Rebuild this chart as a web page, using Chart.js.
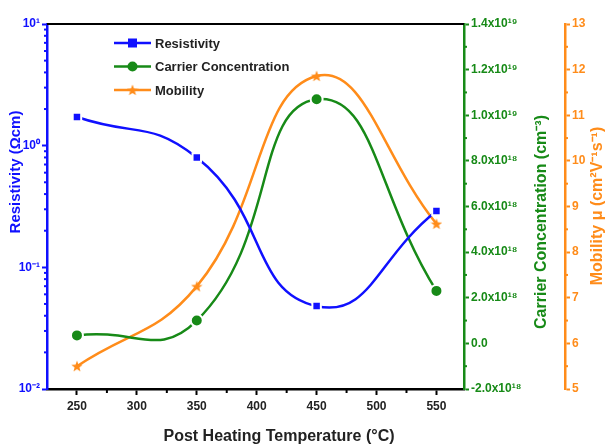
<!DOCTYPE html>
<html lang="en">
<head>
  <meta charset="UTF-8">
  <title>Resistivity / Carrier / Mobility</title>
  <script src="https://cdn.jsdelivr.net/npm/chart.js"></script>
  <style>
    body { margin: 0; background: #fff; }
    #wrap { width: 609px; height: 448px; position: relative; }
  </style>
</head>
<body>
<div id="wrap"><canvas id="chart"></canvas></div>
<script>
  // data
  const temps = [250, 350, 450, 550];
  const resistivity = [1.72, 0.80, 0.048, 0.29];          // ohm cm (log axis)
  const carrier = [0.35e18, 1.0e18, 1.07e19, 2.3e18];      // cm^-3
  const mobility = [5.5, 7.25, 11.86, 8.62];               // cm2 V-1 s-1
  const xTicks = [250, 300, 350, 400, 450, 500, 550];
  const resTicks = [0.01, 0.1, 1, 10];

  const BLUE = '#1010ff', GREEN = '#178a17', ORANGE = '#ff8c1a', DARK = '#222';
  const FONT = "'Liberation Sans', Arial, sans-serif";

  const sup = { '-': '⁻', '0': '⁰', '1': '¹', '2': '²', '3': '³', '4': '⁴', '5': '⁵', '6': '⁶', '7': '⁷', '8': '⁸', '9': '⁹' };
  const toSup = s => String(s).split('').map(c => sup[c] || c).join('');

  // filled star marker for mobility
  function makeStar(size, color) {
    const c = document.createElement('canvas');
    c.width = size; c.height = size;
    const g = c.getContext('2d');
    const r = size / 2, ri = r * 0.42;
    g.beginPath();
    for (let i = 0; i < 10; i++) {
      const rad = i % 2 ? ri : r;
      const a = -Math.PI / 2 + i * Math.PI / 5;
      const px = r + rad * Math.cos(a), py = r + 0.5 + rad * Math.sin(a);
      i ? g.lineTo(px, py) : g.moveTo(px, py);
    }
    g.closePath();
    g.fillStyle = color;
    g.fill();
    return c;
  }
  const starImg = makeStar(12, ORANGE);

  const pts = vals => temps.map((t, i) => ({ x: t, y: vals[i] }));

  function vText(ctx, text, x, y, color, size, angle) {
    ctx.save();
    ctx.translate(x, y);
    ctx.rotate(angle);
    ctx.font = 'bold ' + size + 'px ' + FONT;
    ctx.fillStyle = color;
    ctx.textAlign = 'center';
    ctx.textBaseline = 'middle';
    ctx.fillText(text, 0, 0);
    ctx.restore();
  }

  // minor ticks, top frame, axis titles and in-plot legend
  const extras = {
    id: 'extras',
    afterDraw(chart) {
      const ctx = chart.ctx, a = chart.chartArea;
      const sx = chart.scales.x, sy = chart.scales.y, s1 = chart.scales.y1, s2 = chart.scales.y2;
      ctx.save();
      ctx.lineWidth = 2;
      // top frame
      ctx.strokeStyle = '#000';
      ctx.beginPath(); ctx.moveTo(a.left, a.top); ctx.lineTo(a.right, a.top); ctx.stroke();
      // x minor ticks
      for (let v = 275; v <= 575; v += 50) {
        const p = sx.getPixelForValue(v);
        if (p > a.right) continue;
        ctx.beginPath(); ctx.moveTo(p, a.bottom); ctx.lineTo(p, a.bottom + 4); ctx.stroke();
      }
      // left log minor ticks
      ctx.strokeStyle = BLUE;
      for (let d = 0.01; d < 10; d *= 10) {
        for (let k = 2; k <= 9; k++) {
          const p = sy.getPixelForValue(d * k);
          ctx.beginPath(); ctx.moveTo(a.left, p); ctx.lineTo(a.left - 3, p); ctx.stroke();
        }
      }
      // green minor ticks
      ctx.strokeStyle = GREEN;
      for (let v = -1e18; v < 1.4e19; v += 2e18) {
        const p = s1.getPixelForValue(v);
        ctx.beginPath(); ctx.moveTo(s1.left, p); ctx.lineTo(s1.left + 3, p); ctx.stroke();
      }
      // orange minor ticks
      ctx.strokeStyle = ORANGE;
      for (let v = 5.5; v < 13; v += 1) {
        const p = s2.getPixelForValue(v);
        ctx.beginPath(); ctx.moveTo(s2.left, p); ctx.lineTo(s2.left + 3, p); ctx.stroke();
      }
      // axis titles
      vText(ctx, 'Resistivity (Ωcm)', 16, 172, BLUE, 15, -Math.PI / 2);
      vText(ctx, 'Carrier Concentration (cm⁻³)', 542, 222, GREEN, 16, -Math.PI / 2);
      vText(ctx, 'Mobility μ (cm²V⁻¹s⁻¹)', 598, 206, ORANGE, 16, -Math.PI / 2);
      vText(ctx, 'Post Heating Temperature (°C)', 279, 437, DARK, 16, 0);
      // legend
      ctx.font = 'bold 13px ' + FONT;
      ctx.textBaseline = 'middle';
      chart.data.datasets.forEach((ds, i) => {
        const y = a.top + 19 + i * 23.5;
        const x0 = a.left + 67, x1 = a.left + 104, xm = (x0 + x1) / 2;
        ctx.strokeStyle = ds.borderColor;
        ctx.lineWidth = 2.5;
        ctx.beginPath(); ctx.moveTo(x0, y); ctx.lineTo(x1, y); ctx.stroke();
        ctx.fillStyle = ds.borderColor;
        if (ds.pointStyle === 'rect') ctx.fillRect(xm - 4.5, y - 4.5, 9, 9);
        else if (ds.pointStyle === 'circle') { ctx.beginPath(); ctx.arc(xm, y, 5, 0, Math.PI * 2); ctx.fill(); }
        else ctx.drawImage(starImg, xm - 6, y - 6);
        ctx.fillStyle = DARK;
        ctx.fillText(ds.label, x1 + 4, y + 1);
      });
      ctx.restore();
    }
  };

  const common = { borderWidth: 2.5, pointRadius: 5, pointBorderWidth: 2, pointBorderColor: '#fff', fill: false };
  const tickFont = size => ({ family: FONT, size: size, weight: 'bold' });

  new Chart(document.getElementById('chart'), {
    type: 'line',
    data: {
      datasets: [
        { ...common, label: 'Resistivity', data: pts(resistivity), yAxisID: 'y', tension: 0.5,
          borderColor: BLUE, backgroundColor: BLUE, pointStyle: 'rect', pointRadius: 6 },
        { ...common, label: 'Carrier Concentration', data: pts(carrier), yAxisID: 'y1', tension: 0.5,
          borderColor: GREEN, backgroundColor: GREEN, pointStyle: 'circle', pointRadius: 6 },
        { ...common, label: 'Mobility', data: pts(mobility), yAxisID: 'y2', tension: 0.45,
          borderColor: ORANGE, backgroundColor: ORANGE, pointStyle: starImg }
      ]
    },
    options: {
      responsive: true,
      maintainAspectRatio: false,
      animation: false,
      layout: { padding: { top: 24, left: 0, right: 0, bottom: 0 } },
      plugins: { legend: { display: false }, tooltip: { enabled: false } },
      scales: {
        x: {
          type: 'linear', min: 225, max: 573,
          afterBuildTicks: s => { s.ticks = xTicks.map(v => ({ value: v })); },
          afterFit: s => { s.height = 59; },
          grid: { drawOnChartArea: false, color: '#000', tickLength: 6, tickWidth: 2 },
          border: { color: '#000', width: 2.5 },
          ticks: { color: DARK, font: tickFont(12), padding: 4 }
        },
        y: {
          type: 'logarithmic', position: 'left', min: 0.01, max: 10,
          afterBuildTicks: s => { s.ticks = resTicks.map(v => ({ value: v })); },
          afterFit: s => { s.width = 47; },
          grid: { drawOnChartArea: false, color: BLUE, tickLength: 5, tickWidth: 2 },
          border: { color: BLUE, width: 2.5 },
          ticks: { color: BLUE, font: tickFont(12), padding: 2,
                   callback: v => '10' + toSup(Math.round(Math.log10(v))) }
        },
        y1: {
          type: 'linear', position: 'right', min: -2e18, max: 1.4e19,
          afterFit: s => { s.width = 101; },
          grid: { drawOnChartArea: false, color: GREEN, tickLength: 5, tickWidth: 2 },
          border: { color: GREEN, width: 2.5 },
          ticks: { stepSize: 2e18, color: GREEN, font: tickFont(12), padding: 2,
                   callback: v => {
                     if (Math.abs(v) < 1) return '0.0';
                     const e = Math.floor(Math.log10(Math.abs(v)) + 1e-9);
                     return (v / Math.pow(10, e)).toFixed(1) + 'x10' + toSup(e);
                   } }
        },
        y2: {
          type: 'linear', position: 'right', min: 5, max: 13,
          afterFit: s => { s.width = 44; },
          grid: { drawOnChartArea: false, color: ORANGE, tickLength: 5, tickWidth: 2 },
          border: { color: ORANGE, width: 2.5 },
          ticks: { stepSize: 1, color: ORANGE, font: tickFont(12), padding: 2 }
        }
      }
    },
    plugins: [extras]
  });
</script>
</body>
</html>
